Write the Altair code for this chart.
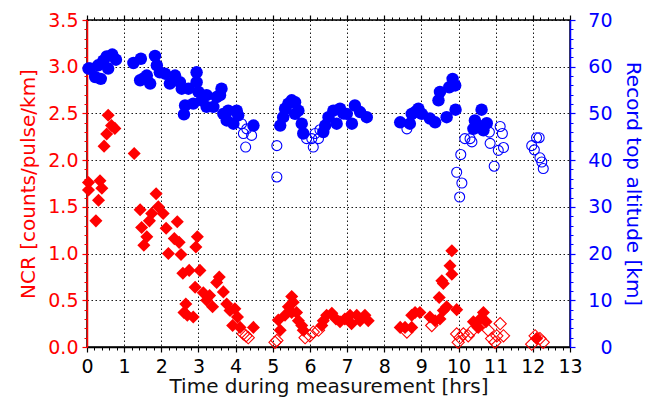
import altair as alt
import pandas as pd

# ---- data ----
red_filled_t = [0.04, 0.04, 0.35, 0.40, 0.31, 0.24, 0.46, 0.53, 0.57, 0.66, 0.75, 1.27,
                1.43, 1.47, 1.53, 1.61, 1.68, 1.74, 1.86, 1.92, 2.05, 2.13, 2.19, 2.35,
                2.43, 2.48, 2.53, 2.58, 2.75, 2.61, 2.66, 2.70, 2.86, 2.91, 2.93, 2.97,
                3.04, 3.13, 3.22, 3.30, 3.38, 3.49, 3.56, 3.67, 3.76, 3.85, 3.92, 3.98,
                4.05, 4.12, 4.48, 5.15, 5.20, 5.33, 5.42, 5.51, 5.55, 5.51, 5.64, 5.69,
                5.78, 5.82, 6.32, 6.36, 6.45, 6.59, 6.70, 6.81, 6.94, 7.08, 7.12, 7.26,
                7.35, 7.48, 7.57, 8.43, 8.56, 8.74, 8.74, 8.83, 8.96, 9.23, 9.37, 9.48,
                9.50, 9.55, 9.59, 9.59, 9.68, 9.77, 9.82, 9.82, 9.95, 10.40, 10.53, 10.58,
                10.67, 10.74, 12.10]
red_filled_ncr = [1.76, 1.68, 1.78, 1.70, 1.57, 1.35, 2.15, 2.28, 2.48, 2.37, 2.34, 2.07,
                  1.47, 1.28, 1.09, 1.18, 1.35, 1.43, 1.64, 1.50, 1.43, 1.27, 1.00, 1.16,
                  1.34, 1.12, 0.99, 0.79, 0.82, 0.37, 0.46, 0.34, 0.32, 0.64, 1.07, 1.18,
                  0.82, 0.58, 0.50, 0.55, 0.43, 0.69, 0.75, 0.59, 0.46, 0.39, 0.23, 0.41,
                  0.32, 0.21, 0.21, 0.29, 0.18, 0.34, 0.43, 0.54, 0.48, 0.37, 0.37, 0.28,
                  0.23, 0.18, 0.23, 0.28, 0.34, 0.36, 0.30, 0.27, 0.30, 0.34, 0.25, 0.34,
                  0.28, 0.34, 0.28, 0.21, 0.21, 0.21, 0.34, 0.37, 0.37, 0.32, 0.28, 0.53,
                  0.30, 0.71, 0.39, 0.68, 0.43, 0.87, 0.78, 1.03, 0.40, 0.27, 0.21, 0.30,
                  0.37, 0.27, 0.09]

red_open_t = [4.21, 4.34, 4.28, 5.06, 5.11, 5.87, 6.00, 6.09, 6.23, 8.61, 9.28, 9.95,
              9.99, 10.04, 10.13, 10.26, 10.33, 10.80, 10.89, 10.98, 11.03, 11.12, 11.21,
              11.97, 12.06, 12.19, 12.28]
red_open_ncr = [0.14, 0.10, 0.12, 0.05, 0.07, 0.10, 0.12, 0.16, 0.18, 0.16, 0.23, 0.14,
                0.05, 0.10, 0.14, 0.12, 0.16, 0.18, 0.09, 0.05, 0.12, 0.25, 0.12,
                0.03, 0.12, 0.09, 0.05]

blue_filled_t = [0.04, 0.08, 0.22, 0.30, 0.37, 0.44, 0.53, 0.57, 0.68, 0.78, 1.25, 1.43,
                 1.45, 1.52, 1.61, 1.70, 1.83, 1.88, 1.96, 2.10, 2.23, 2.37, 2.50, 2.55,
                 2.61, 2.64, 2.73, 2.86, 2.95, 2.95, 3.00, 3.09, 3.22, 3.22, 3.40, 3.49,
                 3.58, 3.62, 3.67, 3.76, 3.80, 3.94, 4.03, 4.07, 4.48, 5.20, 5.28, 5.33,
                 5.42, 5.51, 5.60, 5.60, 5.69, 5.78, 5.82, 6.36, 6.41, 6.50, 6.63, 6.72,
                 6.81, 6.90, 6.99, 7.13, 7.21, 7.35, 7.53, 8.43, 8.69, 8.74, 8.83, 8.92,
                 9.01, 9.23, 9.37, 9.46, 9.50, 9.68, 9.75, 9.84, 9.91, 9.92, 10.40, 10.44,
                 10.53, 10.62, 10.67, 10.76]
blue_filled_alt = [59.6, 59.6, 57.8, 60.3, 57.4, 61.3, 62.2, 59.6, 62.6, 61.5, 60.8, 57.1,
                   61.7, 57.5, 58.1, 56.4, 62.3, 60.3, 58.8, 58.5, 56.4, 58.1, 56.7, 55.3,
                   49.8, 51.7, 55.3, 52.1, 58.8, 56.7, 54.6, 52.8, 53.9, 51.4, 51.4, 53.5,
                   53.9, 55.3, 49.9, 48.5, 50.6, 47.8, 50.6, 49.6, 47.4, 47.4, 49.2, 51.0,
                   52.1, 52.8, 52.4, 49.9, 50.6, 47.8, 45.7, 46.0, 47.4, 49.2, 50.6, 47.8,
                   51.0, 50.0, 49.9, 47.8, 51.7, 50.3, 49.2, 48.1, 47.8, 49.9, 50.3, 51.0,
                   49.9, 48.9, 48.1, 52.8, 54.6, 49.2, 55.6, 57.4, 56.0, 50.8, 46.7, 48.5,
                   47.4, 50.8, 46.4, 47.9]

blue_open_t = [4.16, 4.21, 4.27, 4.30, 4.43, 5.11, 5.11, 5.91, 6.05, 6.09, 6.14, 6.23,
               6.27, 8.61, 9.95, 10.03, 10.06, 10.09, 10.17, 10.31, 10.36, 10.83, 10.85,
               10.96, 11.07, 11.12, 11.18, 11.21, 11.97, 12.04, 12.10, 12.17, 12.19, 12.24,
               12.28]
blue_open_alt = [47.8, 45.7, 42.8, 46.7, 45.3, 43.1, 36.4, 44.6, 44.6, 42.8, 45.7, 44.6,
                 46.5, 46.7, 37.4, 32.1, 41.2, 35.1, 44.6, 44.6, 43.9, 46.0, 43.6,
                 38.7, 42.1, 47.2, 45.7, 42.7, 43.1, 42.2, 44.8, 44.8, 40.5, 39.6,
                 38.2]

x_major = list(range(0, 14))
x_minor = [round(i * 0.2, 1) for i in range(0, 66)]
ncr_major = [i * 0.5 for i in range(0, 8)]
ncr_minor = [round(i * 0.1, 1) for i in range(0, 36)]
alt_major = list(range(0, 71, 10))
alt_minor = list(range(0, 71, 2))

RED = "#ff0000"
BLUE = "#0000ff"
FONT = "DejaVu Sans"
LSIZE = 19
TSIZE = 20

df_rf = pd.DataFrame({"t": red_filled_t, "v": red_filled_ncr})
df_ro = pd.DataFrame({"t": red_open_t, "v": red_open_ncr})
df_bf = pd.DataFrame({"t": blue_filled_t, "v": blue_filled_alt})
df_bo = pd.DataFrame({"t": blue_open_t, "v": blue_open_alt})

xscale = alt.Scale(domain=[0, 13], nice=False, zero=False)
ncr_scale = alt.Scale(domain=[0, 3.5], nice=False)
alt_scale = alt.Scale(domain=[0, 70], nice=False)

# Layer A: red filled diamonds, major bottom x axis and left y axis
red_f = alt.Chart(df_rf).mark_point(shape="diamond", filled=True, size=170, color=RED, opacity=1).encode(
    x=alt.X("t:Q", scale=xscale,
            axis=alt.Axis(orient="bottom", values=x_major, title="Time during measurement [hrs]",
                          labelFont=FONT, labelFontSize=LSIZE, labelColor="black",
                          labelBaseline="alphabetic", labelPadding=20, labelFlush=False,
                          tickSize=5, tickColor="black", tickWidth=1.2,
                          domainColor="black", domainWidth=1.5,
                          grid=True, gridColor="black", gridDash=[1.5, 2.5], gridWidth=1, gridOpacity=0.9,
                          titleFont=FONT, titleFontSize=TSIZE, titleFontWeight="normal", titleColor="#111111",
                          titleBaseline="alphabetic", titleY=45)),
    y=alt.Y("v:Q", scale=ncr_scale,
            axis=alt.Axis(orient="left", values=ncr_major, format=".1f", title="NCR [counts/pulse/km]",
                          labelFont=FONT, labelFontSize=LSIZE, labelColor=RED, labelPadding=4,
                          tickSize=5, tickColor=RED, tickWidth=1.2,
                          domainColor=RED, domainWidth=1.5,
                          grid=True, gridColor="black", gridDash=[1.5, 2.5], gridWidth=1, gridOpacity=0.9,
                          titleFont=FONT, titleFontSize=TSIZE, titleFontWeight="normal", titleColor=RED,
                          titleX=-59, titleBaseline="middle")),
)

# Layer B: red open diamonds, minor bottom/left ticks
red_o = alt.Chart(df_ro).mark_point(shape="diamond", filled=False, size=150, color=RED, strokeWidth=1.1, opacity=1).encode(
    x=alt.X("t:Q", scale=xscale,
            axis=alt.Axis(orient="bottom", values=x_minor, labels=False, title=None, grid=False,
                          domain=False, tickSize=3, tickColor="black", tickWidth=1)),
    y=alt.Y("v:Q", scale=ncr_scale,
            axis=alt.Axis(orient="left", values=ncr_minor, labels=False, title=None, grid=False,
                          domain=False, tickSize=3, tickColor=RED, tickWidth=1)),
)

# Layer C: blue filled circles, right y axis major, top major ticks
blue_f = alt.Chart(df_bf).mark_point(shape="circle", filled=True, size=155, color=BLUE, opacity=1).encode(
    x=alt.X("t:Q", scale=xscale,
            axis=alt.Axis(orient="top", values=x_major, labels=False, title=None, grid=False,
                          domain=False, tickSize=5, tickColor="black", tickWidth=1.2)),
    y=alt.Y("v:Q", scale=alt_scale,
            axis=alt.Axis(orient="right", values=alt_major, title="Record top altitude [km]",
                          labelFont=FONT, labelFontSize=LSIZE, labelColor=BLUE,
                          labelAlign="right", labelPadding=37,
                          tickSize=5, tickColor=BLUE, tickWidth=1.2,
                          domainColor=BLUE, domainWidth=1.5, grid=False,
                          titleFont=FONT, titleFontSize=TSIZE, titleFontWeight="normal", titleColor=BLUE,
                          titleX=62, titleBaseline="middle")),
)

# Layer D: blue open circles, right minor ticks, top minor ticks
blue_o = alt.Chart(df_bo).mark_point(shape="circle", filled=False, size=100, color=BLUE, strokeWidth=1.1, opacity=1).encode(
    x=alt.X("t:Q", scale=xscale,
            axis=alt.Axis(orient="top", values=x_minor, labels=False, title=None, grid=False,
                          domain=False, tickSize=3, tickColor="black", tickWidth=1)),
    y=alt.Y("v:Q", scale=alt_scale,
            axis=alt.Axis(orient="right", values=alt_minor, labels=False, title=None, grid=False,
                          domain=False, tickSize=3, tickColor=BLUE, tickWidth=1)),
)

chart = alt.layer(red_f, red_o, blue_f, blue_o).resolve_scale(
    y="independent"
).resolve_axis(
    x="independent", y="independent"
).properties(
    width=483, height=327,
    padding={"left": 87, "top": 20, "right": 83, "bottom": 59},
    autosize=alt.AutoSizeParams(type="none"),
    background="white",
).configure_view(stroke="black", strokeWidth=1.5)

chart.save("out.html", embed_options={"renderer": "svg", "actions": False})
